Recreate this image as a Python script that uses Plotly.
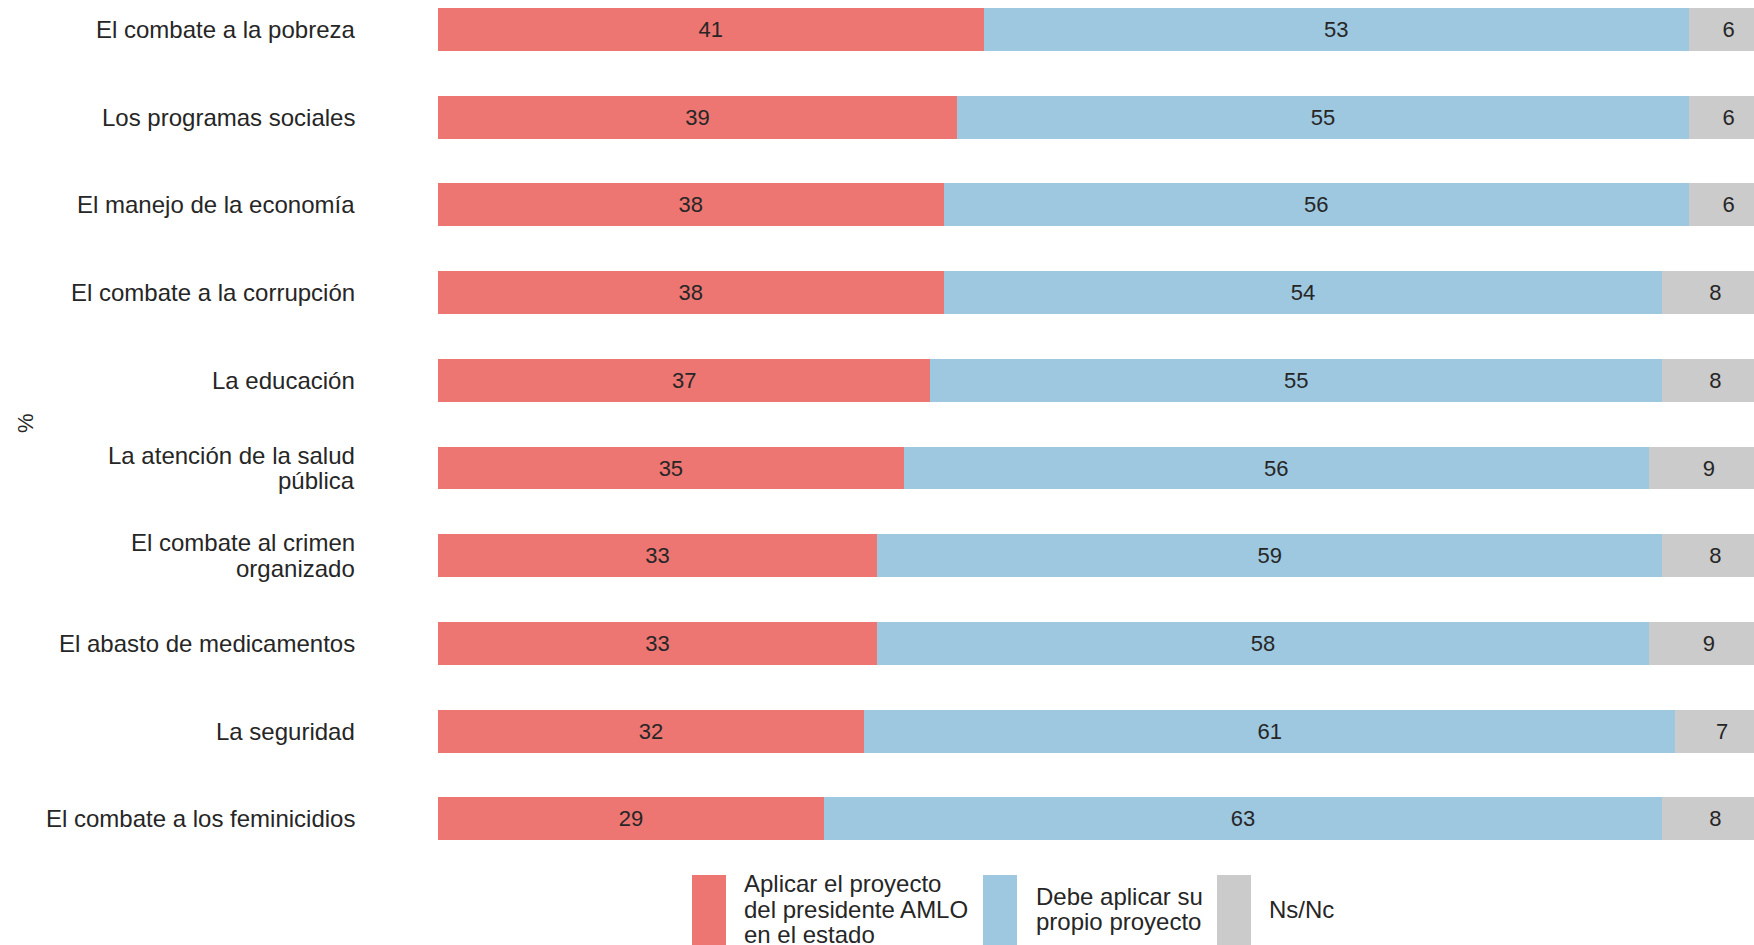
import plotly.graph_objects as go

categories = [
    "El combate a la pobreza",
    "Los programas sociales",
    "El manejo de la economía",
    "El combate a la corrupción",
    "La educación",
    "La atención de la salud<br>pública",
    "El combate al crimen<br>organizado",
    "El abasto de medicamentos",
    "La seguridad",
    "El combate a los feminicidios",
]
aplicar_amlo = [41, 39, 38, 38, 37, 35, 33, 33, 32, 29]
propio_proyecto = [53, 55, 56, 54, 55, 56, 59, 58, 61, 63]
ns_nc = [6, 6, 6, 8, 8, 9, 8, 9, 7, 8]

series_names = ["Aplicar el proyecto<br>del presidente AMLO<br>en el estado",
                "Debe aplicar su<br>propio proyecto",
                "Ns/Nc"]
colors = ["#ED7672", "#9DC8E0", "#CBCBCB"]

W, H = 1754, 945
L, B = 438, 75
PW, PH = W - L, H - B
FONT = "Liberation Sans, Arial, sans-serif"
TXT = "#262626"
LINE = 25.7

fig = go.Figure()
for vals, name, col in zip([aplicar_amlo, propio_proyecto, ns_nc], series_names, colors):
    fig.add_trace(go.Bar(
        y=categories, x=vals, orientation="h", name=name.replace("<br>", " "),
        marker=dict(color=col, line=dict(width=0)),
        text=vals, textposition="inside", insidetextanchor="middle",
        textangle=0, textfont=dict(size=22, color=TXT, family=FONT),
        showlegend=False, hoverinfo="x+y", cliponaxis=True,
    ))

px_per = 87.7
top = -29.5 / px_per
bottom = (PH - 29.5) / px_per
fig.update_layout(
    barmode="stack", bargap=0.51,
    width=W, height=H,
    margin=dict(l=L, r=0, t=0, b=B, pad=0),
    plot_bgcolor="white", paper_bgcolor="white",
    font=dict(family=FONT, size=24, color=TXT),
    uniformtext=dict(minsize=22, mode="show"),
    xaxis=dict(range=[0, 98.9], showgrid=False, zeroline=False,
               showticklabels=False, ticks="", showline=False),
    yaxis=dict(range=[bottom, top], showgrid=False, zeroline=False,
               showline=False, showticklabels=False, ticks=""),
)

def py(v):
    return (PH - v) / PH
def pxx(v):
    return (v - L) / PW

# category labels (right aligned, controlled line spacing)
for cat in categories:
    lines = cat.split("<br>")
    n = len(lines)
    for j, ln in enumerate(lines):
        fig.add_annotation(text=ln, xref="paper", yref="y", x=pxx(357), y=cat,
                           xanchor="right", yanchor="middle", showarrow=False,
                           yshift=((n - 1) / 2 - j) * LINE,
                           font=dict(size=24, color=TXT, family=FONT))

# y-axis title
fig.add_annotation(text="%", xref="paper", yref="paper",
                   x=pxx(25), y=py(423), textangle=-90,
                   showarrow=False, font=dict(size=22, color=TXT, family=FONT),
                   xanchor="center", yanchor="middle")

# manual legend
sw_x = [692, 983, 1217]
tx_x = [742, 1034, 1267]
for i in range(3):
    fig.add_shape(type="rect", xref="paper", yref="paper",
                  x0=pxx(sw_x[i]), x1=pxx(sw_x[i] + 34),
                  y0=py(945), y1=py(875), fillcolor=colors[i], line=dict(width=0))
    lines = series_names[i].split("<br>")
    n = len(lines)
    for j, ln in enumerate(lines):
        fig.add_annotation(text=ln, xref="paper", yref="paper",
                           x=pxx(tx_x[i]), y=py(909 + (j - (n - 1) / 2) * LINE),
                           xanchor="left", yanchor="middle", showarrow=False,
                           font=dict(size=24, color=TXT, family=FONT))

fig.write_html("out.html", config={"displayModeBar": False},
               post_script="document.body.style.margin='0';document.body.style.overflow='hidden';")
